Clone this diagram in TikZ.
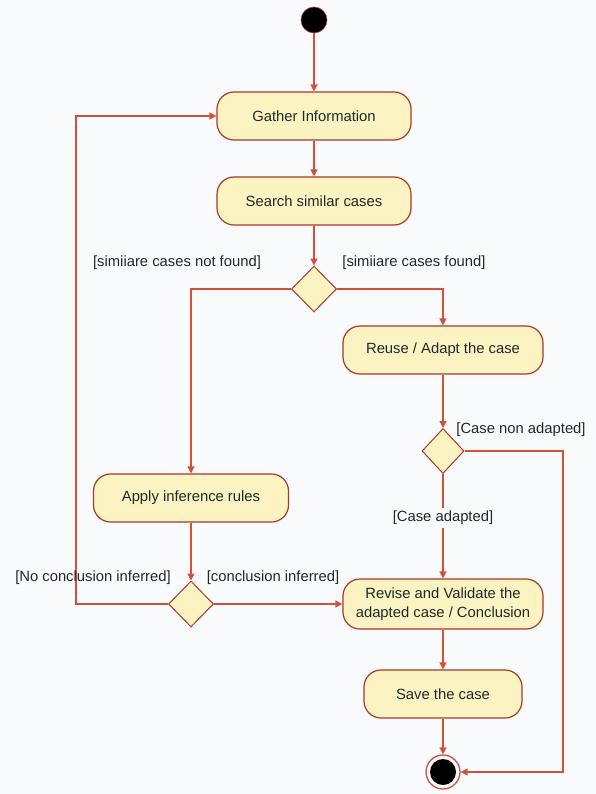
\documentclass[tikz,border=0pt]{standalone}
\usepackage{fontspec}
\setmainfont{Liberation Sans}
\usetikzlibrary{shapes.geometric,arrows.meta}
\definecolor{bgc}{HTML}{F9FAFC}
\definecolor{boxfill}{HTML}{FBF3C2}
\definecolor{boxline}{HTML}{A8382A}
\definecolor{flow}{HTML}{D4503A}
\definecolor{txt}{HTML}{1E2A2A}
\tikzset{
  act/.style={draw=boxline, line width=1.2pt, fill=boxfill, rounded corners=17pt,
    minimum width=194pt, minimum height=48pt, inner sep=2pt, align=center,
    text=txt, font=\fontsize{14.8}{19}\selectfont},
  dec/.style={diamond, draw=boxline, line width=1pt, fill=boxfill, inner sep=0pt,
    minimum width=45pt, minimum height=46pt},
  guard/.style={text=txt, font=\fontsize{14.8}{17}\selectfont, inner sep=1pt},
  flw/.style={draw=flow, line width=1.4pt, -{Triangle[width=7pt,length=7pt]}},
}
\begin{document}
\begin{tikzpicture}[x=1pt,y=-1pt]
\fill[bgc] (0,0) rectangle (596,794);
\useasboundingbox (0,0) rectangle (596,794);

\node[circle, fill=black, draw=boxline, line width=0.6pt, minimum size=26pt, inner sep=0pt] (start) at (314,20) {};
\node[act] (gather) at (314,116) {Gather Information};
\node[act] (search) at (314,201) {Search similar cases};
\node[dec] (d1) at (314,289) {};
\node[act, minimum width=200pt] (reuse) at (443,350) {Reuse / Adapt the case};
\node[dec, minimum width=42pt, minimum height=45pt] (d2) at (443,451) {};
\node[act, minimum width=195pt] (apply) at (191,498) {Apply inference rules};
\node[dec] (d3) at (191,604) {};
\node[act, minimum width=200pt, minimum height=50pt] (revise) at (443,604) {Revise and Validate the\\adapted case / Conclusion};
\node[act, minimum width=158pt] (save) at (443,694) {Save the case};
\node[circle, draw=flow, line width=1.3pt, fill=bgc, minimum size=34pt, inner sep=0pt] (end) at (443,772) {};
\node[circle, fill=black, minimum size=26pt, inner sep=0pt] (endin) at (end) {};

\coordinate (rr) at (563,772);
\coordinate (ll) at (76,604);

\draw[flw] (start) -- (gather);
\draw[flw] (gather) -- (search);
\draw[flw] (search) -- (d1);
\draw[flw] (d1.west) -| (apply.north);
\draw[flw] (d1.east) -| (reuse.north);
\draw[flw] (reuse) -- (d2);
\draw[flw] (d2.east) -| (rr) -- (end.east);
\draw[flw] (d2.south) -- (revise.north);
\draw[flw] (apply) -- (d3);
\draw[flw] (d3.east) -- (revise.west);
\draw[flw] (d3.west) -- (ll) |- (gather.west);
\draw[flw] (revise) -- (save);
\draw[flw] (save) -- (end);

\node[guard] (l1) at (177,263) {[simiiare cases not found]};
\node[guard] (l2) at (414,263) {[simiiare cases found]};
\node[guard] (l3) at (521,430) {[Case non adapted]};
\node[guard, fill=bgc, inner sep=3pt] (l4) at (443,518) {[Case adapted]};
\node[guard] (l5) at (93,578) {[No conclusion inferred]};
\node[guard] (l6) at (273,578) {[conclusion inferred]};
\end{tikzpicture}
\end{document}
